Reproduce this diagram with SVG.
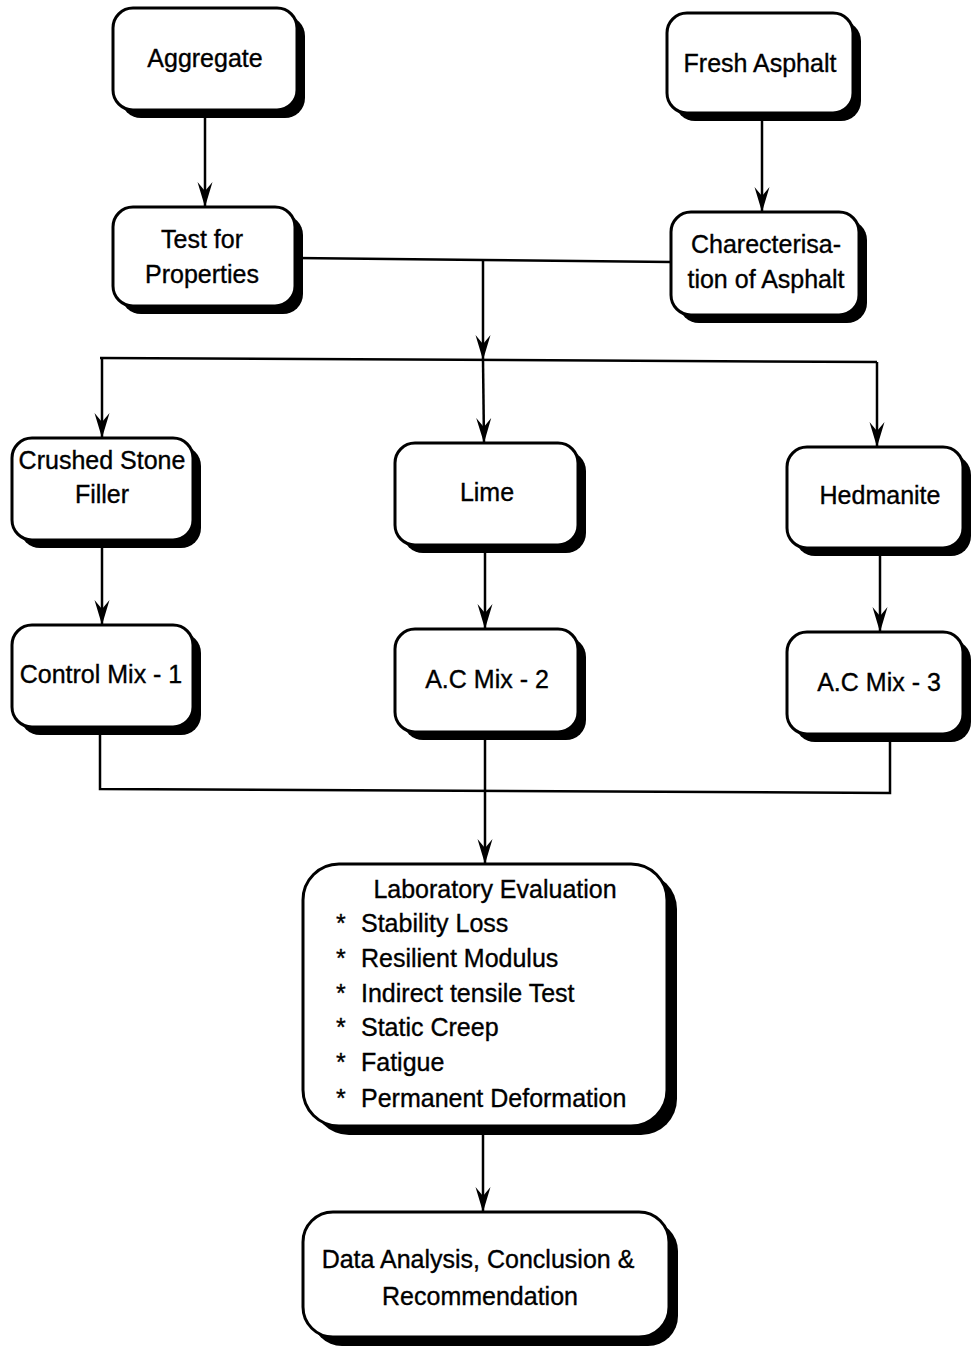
<svg xmlns="http://www.w3.org/2000/svg" width="973" height="1355" viewBox="0 0 973 1355">
<style>
.sh{fill:#000;}
.bx{fill:#fff;stroke:#000;stroke-width:3;}
.t{font-family:"Liberation Sans",Arial,sans-serif;font-size:25px;fill:#000;stroke:#000;stroke-width:0.35;text-anchor:middle;}
.l{font-family:"Liberation Sans",Arial,sans-serif;font-size:25px;fill:#000;stroke:#000;stroke-width:0.35;}
.c{fill:none;stroke:#000;stroke-width:2.5;}
</style>
<defs>
<marker id="ah" markerUnits="userSpaceOnUse" markerWidth="30" markerHeight="20" viewBox="-26 -10 30 20" refX="0" refY="0" orient="auto">
<path d="M0,0 L-25,-7.5 L-16,0 L-25,7.5 Z" fill="#000"/>
</marker>
</defs>
<rect width="973" height="1355" fill="#fff"/>
<g id="connectors">
<line class="c" x1="205" y1="118" x2="205" y2="207" marker-end="url(#ah)"/>
<line class="c" x1="762" y1="121" x2="762" y2="212" marker-end="url(#ah)"/>
<polyline class="c" points="296,258 483,260 671,262"/>
<line class="c" x1="483" y1="260" x2="483" y2="360" marker-end="url(#ah)"/>
<line class="c" x1="100" y1="358" x2="877" y2="362"/>
<line class="c" x1="102" y1="358" x2="102" y2="438" marker-end="url(#ah)"/>
<line class="c" x1="483" y1="360" x2="484" y2="443" marker-end="url(#ah)"/>
<line class="c" x1="877" y1="362" x2="877" y2="447" marker-end="url(#ah)"/>
<line class="c" x1="102" y1="548" x2="102" y2="625" marker-end="url(#ah)"/>
<line class="c" x1="485" y1="553" x2="485" y2="629" marker-end="url(#ah)"/>
<line class="c" x1="880" y1="556" x2="880" y2="632" marker-end="url(#ah)"/>
<polyline class="c" points="100,735 100,789 890,793 890,742"/>
<line class="c" x1="485" y1="740" x2="485" y2="864" marker-end="url(#ah)"/>
<line class="c" x1="483" y1="1133" x2="483" y2="1212" marker-end="url(#ah)"/>
</g>
<g id="aggregate">
<rect class="sh" x="121" y="16" width="184" height="102" rx="20"/>
<rect class="bx" x="113" y="8" width="184" height="102" rx="20"/>
<text class="t" x="205" y="67">Aggregate</text>
</g>
<g id="fresh-asphalt">
<rect class="sh" x="675" y="21" width="186" height="100" rx="20"/>
<rect class="bx" x="667" y="13" width="186" height="100" rx="20"/>
<text class="t" x="760" y="72">Fresh Asphalt</text>
</g>
<g id="test-properties">
<rect class="sh" x="121" y="215" width="182" height="99" rx="20"/>
<rect class="bx" x="113" y="207" width="182" height="99" rx="20"/>
<text class="t" x="202" y="248">Test for</text>
<text class="t" x="202" y="283">Properties</text>
</g>
<g id="characterisation">
<rect class="sh" x="679" y="220" width="188" height="103" rx="20"/>
<rect class="bx" x="671" y="212" width="188" height="103" rx="20"/>
<text class="t" x="766" y="253">Charecterisa-</text>
<text class="t" x="766" y="288">tion of Asphalt</text>
</g>
<g id="crushed-stone">
<rect class="sh" x="20" y="446" width="181" height="102" rx="20"/>
<rect class="bx" x="12" y="438" width="181" height="102" rx="20"/>
<text class="t" x="102" y="469">Crushed Stone</text>
<text class="t" x="102" y="503">Filler</text>
</g>
<g id="lime">
<rect class="sh" x="403" y="451" width="183" height="102" rx="20"/>
<rect class="bx" x="395" y="443" width="183" height="102" rx="20"/>
<text class="t" x="487" y="501">Lime</text>
</g>
<g id="hedmanite">
<rect class="sh" x="795" y="455" width="176" height="101" rx="20"/>
<rect class="bx" x="787" y="447" width="176" height="101" rx="20"/>
<text class="t" x="880" y="504">Hedmanite</text>
</g>
<g id="control-mix-1">
<rect class="sh" x="20" y="633" width="181" height="102" rx="20"/>
<rect class="bx" x="12" y="625" width="181" height="102" rx="20"/>
<text class="t" x="101" y="683">Control Mix - 1</text>
</g>
<g id="ac-mix-2">
<rect class="sh" x="403" y="637" width="183" height="103" rx="20"/>
<rect class="bx" x="395" y="629" width="183" height="103" rx="20"/>
<text class="t" x="487" y="688">A.C Mix - 2</text>
</g>
<g id="ac-mix-3">
<rect class="sh" x="795" y="640" width="176" height="102" rx="20"/>
<rect class="bx" x="787" y="632" width="176" height="102" rx="20"/>
<text class="t" x="879" y="691">A.C Mix - 3</text>
</g>
<g id="lab-evaluation">
<rect class="sh" x="313" y="873" width="364" height="262" rx="36"/>
<rect class="bx" x="303" y="864" width="364" height="262" rx="36"/>
<text class="t" x="495" y="898">Laboratory Evaluation</text>
<text class="l" x="336" y="932">*</text><text class="l" x="361" y="932">Stability Loss</text>
<text class="l" x="336" y="967">*</text><text class="l" x="361" y="967">Resilient Modulus</text>
<text class="l" x="336" y="1002">*</text><text class="l" x="361" y="1002">Indirect tensile Test</text>
<text class="l" x="336" y="1036">*</text><text class="l" x="361" y="1036">Static Creep</text>
<text class="l" x="336" y="1071">*</text><text class="l" x="361" y="1071">Fatigue</text>
<text class="l" x="336" y="1107">*</text><text class="l" x="361" y="1107">Permanent Deformation</text>
</g>
<g id="data-analysis">
<rect class="sh" x="312" y="1221" width="366" height="125" rx="30"/>
<rect class="bx" x="303" y="1212" width="366" height="125" rx="30"/>
<text class="t" x="478" y="1268">Data Analysis, Conclusion &amp;</text>
<text class="t" x="480" y="1305">Recommendation</text>
</g>
</svg>
